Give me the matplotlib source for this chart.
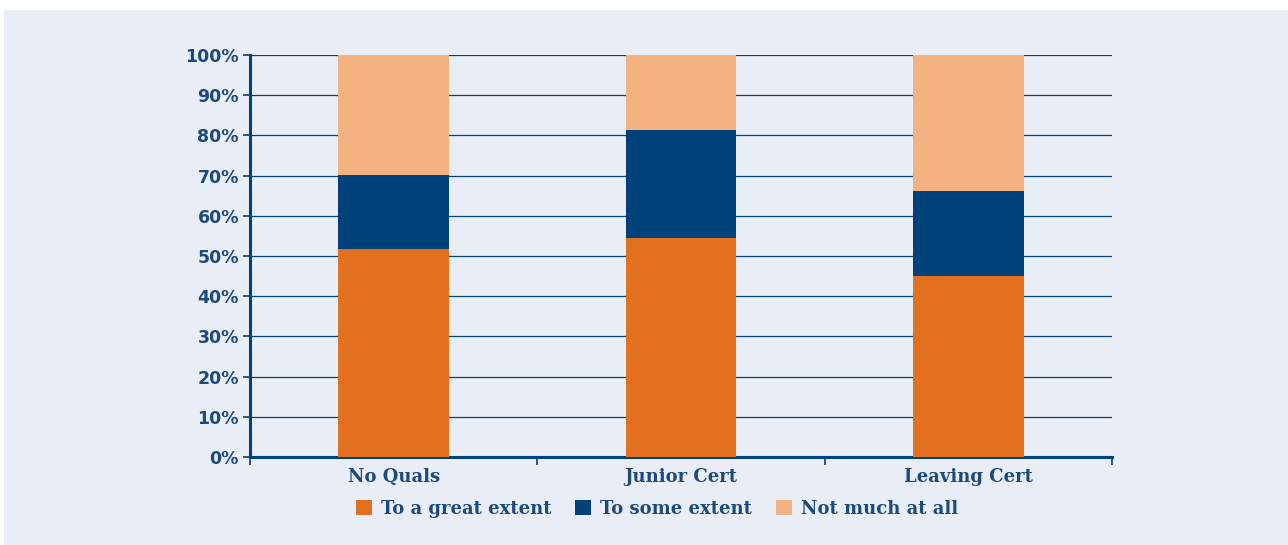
import matplotlib
matplotlib.use('Agg')
import matplotlib.pyplot as plt
from matplotlib.patches import Rectangle
from matplotlib.ticker import FixedLocator
import numpy as np

categories = ['No Quals', 'Junior Cert', 'Leaving Cert']
great_extent = [51.7, 54.5, 45.0]
some_extent = [18.4, 26.8, 21.2]
not_much = [29.9, 18.7, 33.8]
series_labels = ['To a great extent', 'To some extent', 'Not much at all']
yticks = list(range(0, 101, 10))

ORANGE = '#e2701e'
NAVY = '#00437a'
PEACH = '#f3b280'
TEXT = '#1c4a7a'
BG = '#e9edf5'

fig = plt.figure(figsize=(12.88, 5.45), dpi=100)
fig.patch.set_facecolor('white')
fig.add_artist(Rectangle((4 / 1288, 0), 1 - 4 / 1288, 535 / 545,
                         transform=fig.transFigure, facecolor=BG,
                         edgecolor='none', zorder=-10))

ax = fig.add_axes([250 / 1288, 1 - 457 / 545, 862 / 1288, 402 / 545])
ax.set_facecolor('none')

x = np.arange(len(categories))
w = 0.385
bottoms = np.zeros(len(categories))
handles = []
for vals, col, lab in zip([great_extent, some_extent, not_much],
                          [ORANGE, NAVY, PEACH], series_labels):
    h = ax.bar(x, vals, w, bottom=bottoms, color=col, label=lab, zorder=3)
    handles.append(h)
    bottoms += np.array(vals)

ax.set_xlim(-0.5, 2.5)
ax.set_ylim(0, 100)
ax.set_yticks(yticks)
ax.set_yticklabels([f'{t}%' for t in yticks])
ax.yaxis.grid(True, color=NAVY, linewidth=0.9, zorder=1)
ax.set_axisbelow(True)

ax.set_xticks(x)
ax.set_xticklabels(categories)
ax.xaxis.set_minor_locator(FixedLocator([-0.5, 0.5, 1.5, 2.5]))
ax.tick_params(axis='x', which='major', length=0, pad=8)
ax.tick_params(axis='x', which='minor', length=6, width=1.2, color=NAVY)
ax.tick_params(axis='y', length=5, width=1.2, color=NAVY, pad=3)

for lab in ax.get_xticklabels():
    lab.set_fontfamily('DejaVu Serif')
    lab.set_fontweight('bold')
    lab.set_fontsize(13)
    lab.set_color(TEXT)
for lab in ax.get_yticklabels():
    lab.set_fontfamily('DejaVu Sans')
    lab.set_fontweight('bold')
    lab.set_fontsize(12.5)
    lab.set_color(TEXT)

for s in ['top', 'right']:
    ax.spines[s].set_visible(False)
ax.spines['left'].set_color(NAVY)
ax.spines['left'].set_linewidth(2.2)
ax.spines['bottom'].set_color(NAVY)
ax.spines['bottom'].set_linewidth(2.2)

leg = fig.legend(handles=handles, loc='center', bbox_to_anchor=(657 / 1288, 1 - 509 / 545),
                 ncol=3, frameon=False, handlelength=0.9, handleheight=0.9,
                 handletextpad=0.5, columnspacing=1.3,
                 prop={'family': 'DejaVu Serif', 'weight': 'bold', 'size': 13})
for t in leg.get_texts():
    t.set_color(TEXT)

plt.savefig('out.png', dpi=100)
plt.close()
